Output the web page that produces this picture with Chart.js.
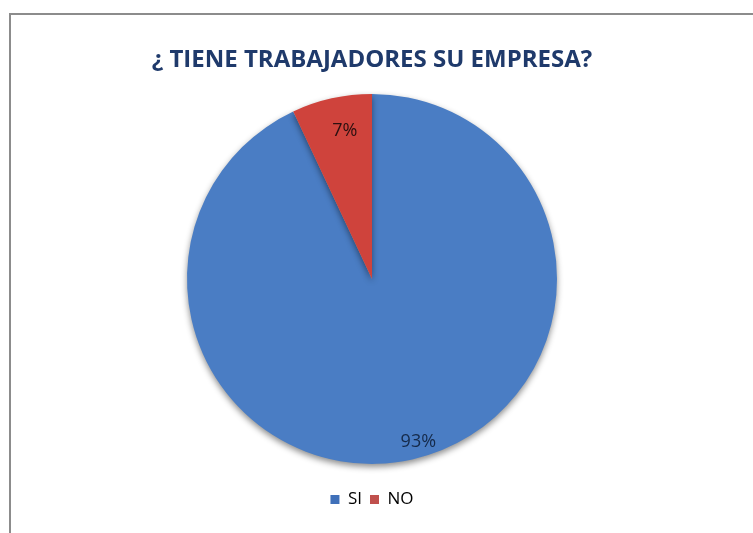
<!DOCTYPE html>
<html>
<head>
<meta charset="utf-8">
<script src="https://cdn.jsdelivr.net/npm/chart.js@4.4.1/dist/chart.umd.min.js"></script>
<style>
  html, body { margin: 0; padding: 0; background: #fff; overflow: hidden; }
  #frame {
    position: absolute; left: 9px; top: 13px; width: 800px; height: 600px;
    border-left: 2px solid #8c8c8c; border-top: 2px solid #8c8c8c;
  }
  #wrap { position: absolute; left: 0; top: 0; width: 753px; height: 533px; }
</style>
</head>
<body>
<div id="frame"></div>
<div id="wrap"><canvas id="chartPie"></canvas></div>
<script>
const categories = ['SI', 'NO'];
const percents = [93, 7];
const sliceColors = ['#4A7DC4', '#CF433C'];
const legendColors = ['#3F70B9', '#C0504D'];

// labels inside the slices, like the office chart
const sliceLabels = {
  id: 'sliceLabels',
  afterDatasetsDraw(chart) {
    const ctx = chart.ctx;
    const meta = chart.getDatasetMeta(0);
    meta.data.forEach(function (arc, i) {
      const p = arc.getProps(['x', 'y', 'startAngle', 'endAngle', 'outerRadius'], true);
      const mid = (p.startAngle + p.endAngle) / 2;
      const d = p.outerRadius * (i == 0 ? 0.9 : 0.82);
      ctx.save();
      ctx.font = '18px "Open Sans"';
      ctx.fillStyle = i == 0 ? '#152a4a' : '#2a1010';
      ctx.textAlign = 'center';
      ctx.textBaseline = 'middle';
      ctx.fillText(percents[i] + '%', p.x + Math.cos(mid) * d + (i == 0 ? 10 : 6), p.y + Math.sin(mid) * d);
      ctx.restore();
    });
  }
};

const pieShadow = {
  id: 'pieShadow',
  beforeDatasetDraw(chart) {
    const ctx = chart.ctx;
    ctx.save();
    ctx.shadowColor = 'rgba(0,0,0,0.45)';
    ctx.shadowBlur = 6;
    ctx.shadowOffsetY = 3;
  },
  afterDatasetDraw(chart) {
    chart.ctx.restore();
  }
};

new Chart(document.getElementById('chartPie'), {
  type: 'pie',
  data: {
    labels: categories,
    datasets: [{
      data: percents,
      backgroundColor: sliceColors,
      borderWidth: 0
    }]
  },
  options: {
    responsive: true,
    maintainAspectRatio: false,
    animation: false,
    radius: 185,
    layout: { padding: { left: 0, right: 9, top: 0, bottom: 15 } },
    plugins: {
      title: {
        display: true,
        text: '¿ TIENE TRABAJADORES SU EMPRESA?',
        color: '#1F3A6B',
        font: { family: 'Open Sans', size: 24, weight: 'bold' },
        padding: { top: 46, bottom: 0 }
      },
      legend: {
        position: 'bottom',
        labels: {
          color: '#222',
          font: { family: 'Open Sans', size: 17 },
          boxWidth: 9,
          boxHeight: 9,
          padding: 8,
          generateLabels(chart) {
            return categories.map(function (c, i) {
              return { text: c, fillStyle: legendColors[i], strokeStyle: legendColors[i], lineWidth: 0, index: i };
            });
          }
        }
      },
      tooltip: { enabled: false }
    }
  },
  plugins: [pieShadow, sliceLabels]
});
</script>
</body>
</html>
